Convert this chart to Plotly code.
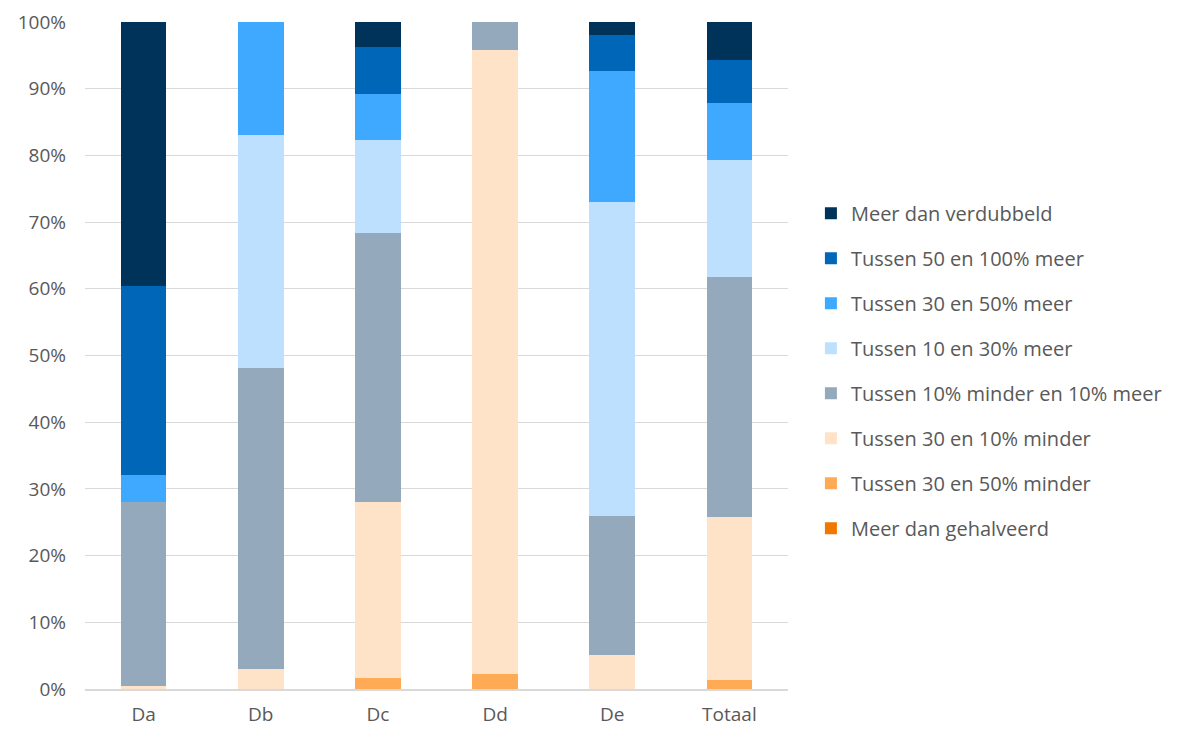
import plotly.graph_objects as go

categories = ["Da", "Db", "Dc", "Dd", "De", "Totaal"]

meer_dan_gehalveerd = [0, 0, 0, 0, 0, 0]
tussen_30_50_minder = [0, 0, 1.7, 2.3, 0, 1.35]
tussen_30_10_minder = [0.5, 3.0, 26.3, 93.5, 5.1, 24.4]
tussen_10min_10meer = [27.5, 45.1, 40.4, 4.2, 20.8, 36.0]
tussen_10_30_meer = [0, 35.0, 13.9, 0, 47.1, 17.5]
tussen_30_50_meer = [4.1, 16.9, 6.9, 0, 19.7, 8.6]
tussen_50_100_meer = [28.3, 0, 7.1, 0, 5.3, 6.5]
meer_dan_verdubbeld = [39.6, 0, 3.7, 0, 2.0, 5.6]

series = [
    ("Meer dan gehalveerd", meer_dan_gehalveerd, "#F07800"),
    ("Tussen 30 en 50% minder", tussen_30_50_minder, "#FFAA55"),
    ("Tussen 30 en 10% minder", tussen_30_10_minder, "#FFE3C8"),
    ("Tussen 10% minder en 10% meer", tussen_10min_10meer, "#94A9BB"),
    ("Tussen 10 en 30% meer", tussen_10_30_meer, "#BDE0FF"),
    ("Tussen 30 en 50% meer", tussen_30_50_meer, "#3FA9FF"),
    ("Tussen 50 en 100% meer", tussen_50_100_meer, "#0066B8"),
    ("Meer dan verdubbeld", meer_dan_verdubbeld, "#003359"),
]

fig = go.Figure()
n = len(series)
for i, (name, vals, color) in enumerate(series):
    fig.add_trace(go.Bar(
        x=categories, y=vals, name=name, legendgroup=name,
        legendrank=n - i,
        marker=dict(color=color, line=dict(width=0)),
    ))

fig.update_layout(
    barmode="stack",
    bargap=0.61,
    width=1171, height=721,
    margin=dict(l=77, r=389, t=14, b=40),
    plot_bgcolor="white", paper_bgcolor="white",
    font=dict(family="Open Sans, Lato, sans-serif", size=19, color="#595959"),
    showlegend=True,
    legend=dict(
        traceorder="grouped",
        tracegroupgap=16,
        x=1.0326, xanchor="left", y=0.477, yanchor="middle",
        font=dict(size=20, color="#595959"),
        itemwidth=30,
    ),
    xaxis=dict(showline=True, linecolor="#D9D9D9", linewidth=1.5, ticks="",
               automargin=False, ticklabelstandoff=7,
               tickfont=dict(size=19, color="#595959")),
    yaxis=dict(range=[0, 100], dtick=10, ticksuffix="%", showgrid=True,
               gridcolor="#D9D9D9", gridwidth=1, zeroline=False,
               automargin=False, ticklabelstandoff=18,
               tickfont=dict(size=19, color="#595959")),
)

fig.write_html("out.html")
